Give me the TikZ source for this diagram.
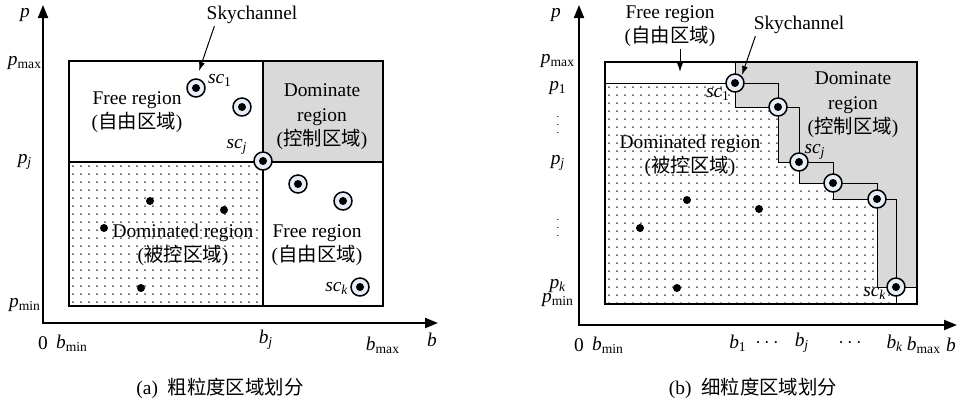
\documentclass[tikz,border=0pt]{standalone}
\usepackage{fontspec}
\setmainfont{Liberation Serif}
\newfontfamily\cjk{Noto Sans CJK SC}
\usetikzlibrary{arrows.meta, positioning}
\definecolor{skyfill}{RGB}{232,238,248}
\definecolor{domgray}{RGB}{217,217,217}
\definecolor{dotgray}{RGB}{70,70,70}
\newcommand{\smallvdots}{{\fontsize{5.5}{5.5}\selectfont$\vdots$}}

\begin{document}
\begin{tikzpicture}[
    x=0.5pt, y=-0.5pt,
    font=\fontsize{9.7}{12.3}\selectfont,
    lbl/.style={inner sep=1pt, align=center},
    skypt/.style={circle, draw, line width=0.75pt, fill=skyfill, minimum size=9pt, inner sep=0pt,
        path picture={\fill[black] (path picture bounding box.center) circle (2pt);}},
    dompt/.style={circle, fill=black, minimum size=4pt, inner sep=0pt},
    frame/.style={line width=0.8pt},
    stair/.style={line width=0.5pt},
    axis/.style={line width=1pt, {Triangle[length=6.5pt,width=5pt]}-{Triangle[length=6.5pt,width=5pt]}},
    ptr/.style={line width=0.5pt, -{Latex[length=4.5pt,width=3pt]}}
]
\useasboundingbox (0,0) rectangle (959,404);

% (a) Coarse partition
\fill[domgray] (263,61) rectangle (383,162);
\begin{scope}
  \clip (69,162) rectangle (263,306);
  \foreach \xx in {73,81,...,259}
    \foreach \yy in {166,174,...,302}
      \fill[dotgray] (\xx,\yy) circle (0.5pt);
\end{scope}
\draw[frame] (69,61) rectangle (383,306);
\draw[frame] (263,61) -- (263,306);
\draw[frame] (69,162) -- (383,162);

\coordinate (oA) at (43,323);
\coordinate (topA) at (43,5);
\coordinate (endA) at (438,323);
\draw[axis] (topA) -- (oA) -- (endA);

\node[lbl] (pA) at (25,15) {\textit{p}};
\node[lbl] (pmaxA) at (25,63) {\textit{p}\textsubscript{max}};
\node[lbl] (pjA) at (25,162) {\textit{p}\textsubscript{\textit{j}}};
\node[lbl] (pminA) at (25,305) {\textit{p}\textsubscript{min}};
\node[lbl] (zeroA) at (43,343) {0};
\node[lbl] (bminA) at (72,343) {\textit{b}\textsubscript{min}};
\node[lbl] (bjA) at (266,340) {\textit{b}\textsubscript{\textit{j}}};
\node[lbl] (bmaxA) at (383,345) {\textit{b}\textsubscript{max}};
\node[lbl] (bA) at (432,340) {\textit{b}};

\node[skypt] (sc1A) at (196,88) {};
\node[skypt] (sc2A) at (242,107) {};
\node[skypt] (scjA) at (263,161) {};
\node[skypt] (sc4A) at (298,184) {};
\node[skypt] (sc5A) at (343,201) {};
\node[skypt] (sckA) at (360,287) {};
\node[dompt] (d1A) at (150,201) {};
\node[dompt] (d2A) at (224,210) {};
\node[dompt] (d3A) at (104,228) {};
\node[dompt] (d4A) at (141,288) {};

\node[lbl] (sc1lA) at (220,80) {\textit{sc}\textsubscript{1}};
\node[lbl] (scjlA) at (237,147) {\textit{sc}\textsubscript{\textit{j}}};
\node[lbl] (scklA) at (337,288) {\textit{sc}\textsubscript{\textit{k}}};

\node[lbl] (freeA) at (137,112) {Free region\\({\cjk 自由区域})};
\node[lbl] (domA) at (322,117) {Dominate\\region\\({\cjk 控制区域})};
\node[lbl] (dedA) at (183,245) {Dominated region\\({\cjk 被控区域})};
\node[lbl] (free2A) at (317,245) {Free region\\({\cjk 自由区域})};

\node[lbl] (skyA) at (252,15) {Skychannel};
\coordinate (tipA) at (199,71);
\draw[ptr] ([xshift=5pt]skyA.south west) -- (tipA);

\node[lbl] (capA) at (220,388) {(a)\ \ {\cjk 粗粒度区域划分}};

% (b) Fine partition
\coordinate (s1) at (735,83);
\coordinate (s2) at (778,107);
\coordinate (s3) at (799,162);
\coordinate (s4) at (833,183);
\coordinate (s5) at (877,199);
\coordinate (s6) at (896,287);

\fill[domgray] (735,62) -- (917,62) -- (917,287) -- (s6) -| (s5) -| (s4) -| (s3) -| (s2) -| (s1) -- cycle;
\begin{scope}
  \clip (605,83) -- (s1) |- (s2) |- (s3) |- (s4) |- (s5) |- (s6) -- (896,304) -- (605,304) -- cycle;
  \foreach \xx in {609,617,...,893}
    \foreach \yy in {87,95,...,303}
      \fill[dotgray] (\xx,\yy) circle (0.5pt);
\end{scope}
\draw[frame] (605,62) rectangle (917,304);
\draw[stair] (605,83) -- (s1) -- (735,62);
\draw[stair] (s1) -| (s2) -| (s3) -| (s4) -| (s5) -| (s6) -- (917,287);
\draw[stair] (s1) |- (s2) |- (s3) |- (s4) |- (s5) |- (s6) -- (896,304);

\coordinate (oB) at (579,325);
\coordinate (topB) at (579,5);
\coordinate (endB) at (957,325);
\draw[axis] (topB) -- (oB) -- (endB);

\node[lbl] (pB) at (556,15) {\textit{p}};
\node[lbl] (pmaxB) at (558,61) {\textit{p}\textsubscript{max}};
\node[lbl] (p1B) at (558,88) {\textit{p}\textsubscript{1}};
\node[lbl, inner sep=0pt] (vd1B) at (558,119) {\smallvdots};
\node[lbl] (pjB) at (558,163) {\textit{p}\textsubscript{\textit{j}}};
\node[lbl, inner sep=0pt] (vd2B) at (558,222) {\smallvdots};
\node[lbl] (pkB) at (558,286) {\textit{p}\textsubscript{\textit{k}}};
\node[lbl] (pminB) at (558,300) {\textit{p}\textsubscript{min}};
\node[lbl] (zeroB) at (579,345) {0};
\node[lbl] (bminB) at (608,345) {\textit{b}\textsubscript{min}};
\node[lbl] (b1B) at (738,343) {\textit{b}\textsubscript{1}};
\node[lbl] (cd1B) at (767,343) {$\cdots$};
\node[lbl] (bjB) at (802,343) {\textit{b}\textsubscript{\textit{j}}};
\node[lbl] (cd2B) at (850,343) {$\cdots$};
\node[lbl] (bkB) at (895,343) {\textit{b}\textsubscript{\textit{k}}};
\node[lbl] (bmaxB) at (924,345) {\textit{b}\textsubscript{max}};
\node[lbl] (bB) at (951,345) {\textit{b}};

\node[skypt] (sc1B) at (s1) {};
\node[skypt] (sc2B) at (s2) {};
\node[skypt] (scjB) at (s3) {};
\node[skypt] (sc4B) at (s4) {};
\node[skypt] (sc5B) at (s5) {};
\node[skypt] (sckB) at (s6) {};
\node[dompt] (d1B) at (687,200) {};
\node[dompt] (d2B) at (759,209) {};
\node[dompt] (d3B) at (640,228) {};
\node[dompt] (d4B) at (677,288) {};

\node[lbl] (sc1lB) at (718,94) {\textit{sc}\textsubscript{1}};
\node[lbl, inner sep=0pt] (scjlB) at (815,152) {\textit{sc}\textsubscript{\textit{j}}};
\node[lbl] (scklB) at (875,293) {\textit{sc}\textsubscript{\textit{k}}};

\node[lbl, inner sep=0pt] (domB) at (853,105) {Dominate\\region\\({\cjk 控制区域})};
\node[lbl] (dedB) at (690,156) {Dominated region\\({\cjk 被控区域})};

\node[lbl] (freeB) at (670,26) {Free region\\({\cjk 自由区域})};
\coordinate (tipFB) at (680,72);
\draw[ptr] ([xshift=5pt]freeB.south) -- (tipFB);

\node[lbl] (skyB) at (799,25) {Skychannel};
\coordinate (tipB) at (742,75);
\draw[ptr] ([xshift=2pt]skyB.south west) -- (tipB);

\node[lbl] (capB) at (753,388) {(b)\ \ {\cjk 细粒度区域划分}};

\end{tikzpicture}
\end{document}
